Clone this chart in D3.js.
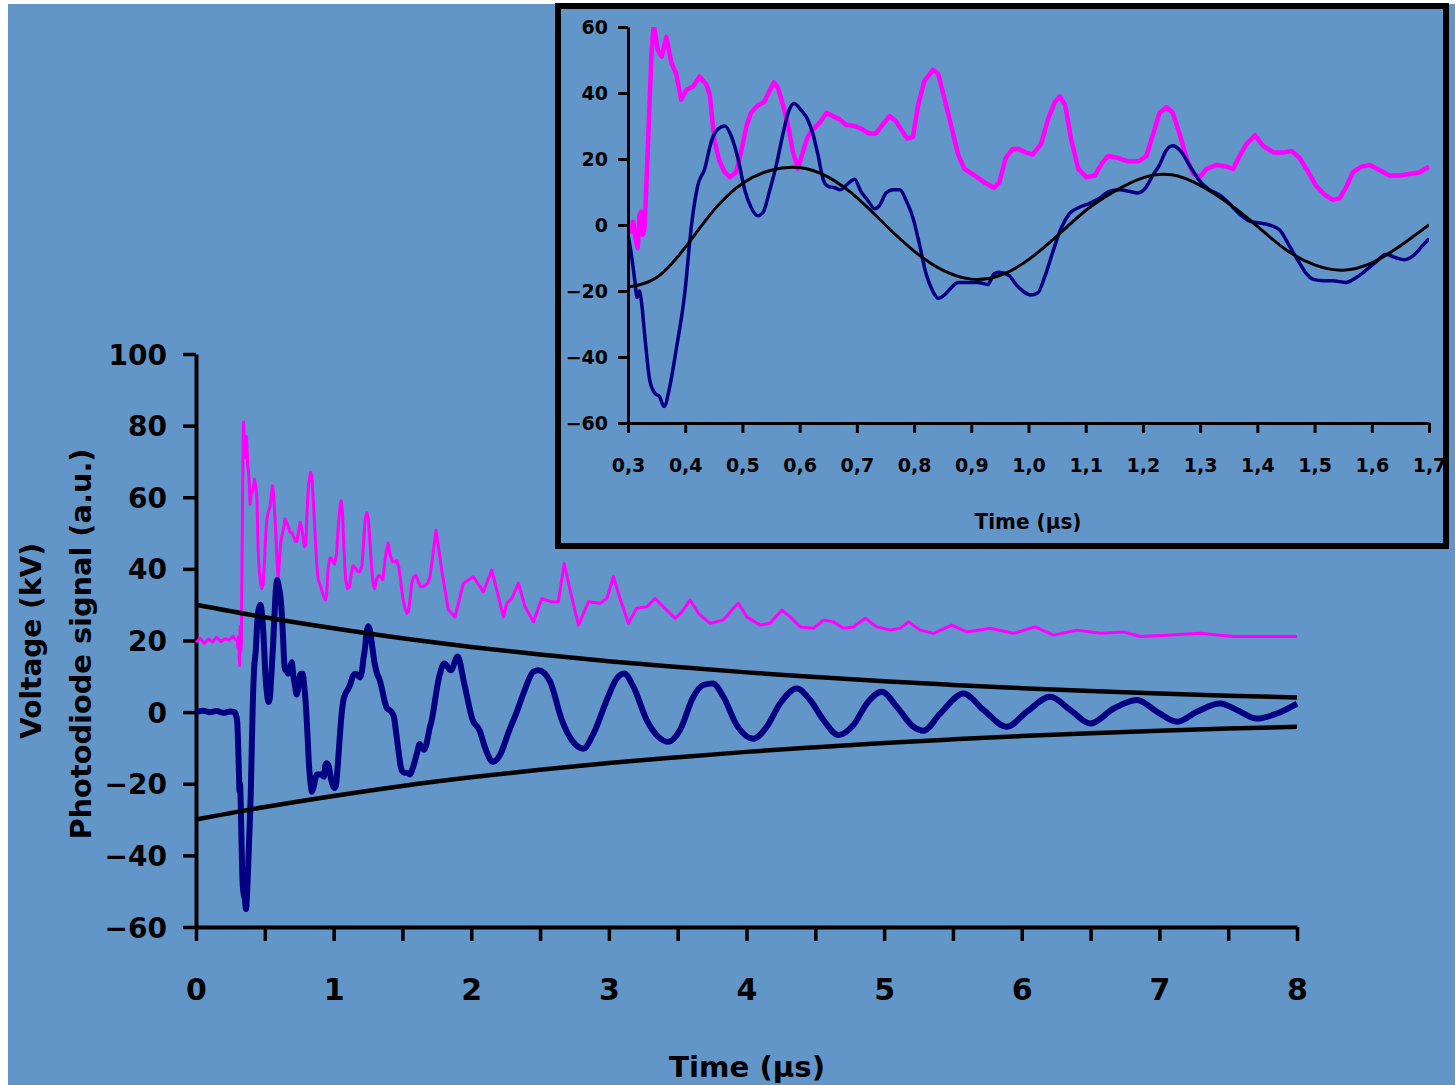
<!DOCTYPE html>
<html>
<head>
<meta charset="utf-8">
<script src="https://cdn.jsdelivr.net/npm/d3@7"></script>
<style>
  html, body { margin: 0; padding: 0; background: #ffffff; }
  svg { display: block; }
  text { font-family: "DejaVu Sans", Verdana, sans-serif; font-weight: bold; fill: #000; }
</style>
</head>
<body>
<svg id="chart" width="1455" height="1085"></svg>
<script>
// ---------------- DATA ----------------
// Main chart tick labels
const mainYTicks = [100, 80, 60, 40, 20, 0, -20, -40, -60];
const mainYTickLabels = ["100", "80", "60", "40", "20", "0", "\u221220", "\u221240", "\u221260"];
const mainXTicks = [0, 0.5, 1, 1.5, 2, 2.5, 3, 3.5, 4, 4.5, 5, 5.5, 6, 6.5, 7, 7.5, 8];
const mainXTickLabels = ["0", "", "1", "", "2", "", "3", "", "4", "", "5", "", "6", "", "7", "", "8"];

// Inset tick labels
const insetYTicks = [60, 40, 20, 0, -20, -40, -60];
const insetYTickLabels = ["60", "40", "20", "0", "\u221220", "\u221240", "\u221260"];
const insetXTicks = [0.3, 0.4, 0.5, 0.6, 0.7, 0.8, 0.9, 1.0, 1.1, 1.2, 1.3, 1.4, 1.5, 1.6, 1.7];
const insetXTickLabels = ["0,3", "0,4", "0,5", "0,6", "0,7", "0,8", "0,9", "1,0", "1,1", "1,2", "1,3", "1,4", "1,5", "1,6", "1,7"];

// Photodiode offset between main chart (baseline 20) and inset (baseline 0)
const photoOffset = 20;

// Voltage (kV), 0.3 - 1.7 us  [t, kV]
const insetVoltage = [
  [0.300,-3],[0.306,-9],[0.312,-17],[0.316,-22],[0.320,-20],[0.324,-24],[0.329,-33],[0.338,-47],
  [0.347,-51],[0.355,-52],[0.363,-55],[0.373,-49],[0.384,-38],[0.399,-21],[0.411,0],[0.422,12],
  [0.434,17],[0.446,25.5],[0.457,29],[0.469,30],[0.481,26.7],[0.492,20.3],[0.504,10.7],[0.515,5.4],
  [0.527,2.8],[0.536,3.8],[0.548,10.7],[0.559,18],[0.571,27.7],[0.580,34],[0.590,36.8],[0.603,34.7],
  [0.614,32],[0.623,27.7],[0.632,21.3],[0.641,13.9],[0.649,11.8],[0.661,11.3],[0.671,10.7],[0.683,12.3],
  [0.696,13.9],[0.707,10.2],[0.719,7.5],[0.731,4.9],[0.740,6],[0.751,9.7],[0.763,10.7],[0.775,10.7],
  [0.786,7.5],[0.798,2.2],[0.810,-6.3],[0.821,-14.8],[0.833,-20.1],[0.842,-22.2],[0.853,-21.2],[0.865,-19],
  [0.877,-17.4],[0.894,-17.4],[0.911,-17.4],[0.929,-18],[0.940,-14.8],[0.949,-14.3],[0.966,-15.3],[0.978,-18],
  [0.990,-20],[1.004,-21.2],[1.016,-20.6],[1.028,-15.9],[1.042,-8.4],[1.057,-1],[1.071,3.3],[1.089,5.4],
  [1.106,6.5],[1.124,8.1],[1.141,10.2],[1.159,10.7],[1.176,10.2],[1.191,9.7],[1.205,11.3],[1.217,15],
  [1.229,18.2],[1.240,22.4],[1.252,24],[1.266,22.4],[1.281,18.2],[1.299,13.4],[1.316,10.7],[1.334,9.1],
  [1.351,6.5],[1.369,3.3],[1.386,1.2],[1.404,0.6],[1.421,0],[1.439,-1.5],[1.456,-6.3],[1.474,-11.6],
  [1.486,-14.8],[1.497,-16.4],[1.515,-16.9],[1.532,-16.9],[1.555,-17.4],[1.573,-15.9],[1.590,-13.7],[1.608,-11.1],
  [1.625,-8.9],[1.643,-10],[1.657,-10.5],[1.675,-8.9],[1.686,-6.8],[1.700,-4.1]
];

// Photodiode signal (baseline 0), 0.3 - 1.7 us
const insetPhoto = [
  [0.300,0],[0.305,-2],[0.309,1],[0.313,-4],[0.317,-7],[0.320,3],[0.323,4],[0.326,-3],[0.329,-1],
  [0.335,25],[0.341,52],[0.345,61],[0.352,53],[0.359,51],[0.367,57],[0.376,49],[0.384,46],[0.393,38],
  [0.402,41],[0.414,42],[0.425,45],[0.437,42.5],[0.443,39.4],[0.451,25.5],[0.460,19.3],[0.469,16],
  [0.478,14.5],[0.489,16],[0.498,22.4],[0.507,30],[0.515,34],[0.527,36.3],[0.538,37.3],[0.547,40.5],
  [0.555,43.2],[0.562,41.6],[0.571,36.3],[0.580,30],[0.588,22.4],[0.597,17],[0.606,22.4],[0.614,26.7],
  [0.623,29],[0.635,31],[0.647,34],[0.658,33],[0.670,32],[0.681,30.4],[0.696,30],[0.710,29],
  [0.721,27.7],[0.733,27.7],[0.745,30.4],[0.757,33],[0.768,31.5],[0.780,28.3],[0.788,26.2],[0.798,26.7],
  [0.807,36.3],[0.818,43.7],[0.833,47],[0.842,45.9],[0.853,38.4],[0.865,30],[0.877,21.3],[0.888,17],
  [0.906,15],[0.923,12.9],[0.940,11.3],[0.949,12.9],[0.960,20.3],[0.972,23],[0.983,23],[0.995,22],
  [1.007,21.3],[1.022,24.6],[1.034,32],[1.046,37.3],[1.055,39],[1.064,36.3],[1.075,25.6],[1.087,17],
  [1.101,14.5],[1.116,15],[1.128,18.7],[1.139,20.9],[1.157,20.3],[1.174,19.3],[1.192,19.3],[1.206,20.9],
  [1.218,27.7],[1.229,34],[1.241,35.7],[1.252,34],[1.264,27.7],[1.276,20.3],[1.288,15.5],[1.299,14.5],
  [1.311,17],[1.329,18.2],[1.346,17.7],[1.358,17],[1.367,20.3],[1.381,24.6],[1.396,27.2],[1.410,24],
  [1.428,22],[1.446,22],[1.460,22.4],[1.474,20.3],[1.489,16],[1.503,11.8],[1.518,9.1],[1.532,7.6],
  [1.544,8.1],[1.556,11.8],[1.567,16],[1.582,17.7],[1.597,18.2],[1.614,16.6],[1.631,15],[1.649,15],
  [1.667,15.5],[1.684,16],[1.700,17.7]
];

// Fitted oscillation shown in the inset
const insetFit = [
  [0.30,-18.8],[0.35,-15.9],[0.40,-6.8],[0.45,4.5],[0.50,12.6],[0.55,16.6],[0.60,17.4],[0.65,14.5],
  [0.70,8.3],[0.75,0],[0.80,-7.9],[0.85,-13.7],[0.90,-16.4],[0.95,-15.3],[1.00,-10.5],[1.05,-3.3],
  [1.10,4.4],[1.15,10.2],[1.20,14.3],[1.25,15.2],[1.30,12],[1.35,6.5],[1.40,-0.4],[1.45,-7.5],
  [1.50,-12.1],[1.55,-13.7],[1.60,-11.5],[1.65,-6.3],[1.70,0]
];

// Main chart: voltage before and after the inset window
const voltagePre = [[0,0],[0.05,0.4],[0.10,0],[0.15,0.3],[0.20,-0.2],[0.25,0.2],[0.28,0],[0.295,-1.5]];
const voltagePost = [
  [1.707,-3.2],[1.767,9.9],[1.804,13.6],[1.852,11.7],[1.901,15.5],[1.949,8],[2.010,-2.2],[2.059,-5],
  [2.107,-10.6],[2.156,-13.9],[2.204,-12.3],[2.277,-5],[2.326,-0.4],[2.379,5.2],[2.452,11.3],[2.488,11.7],
  [2.573,8.5],[2.658,-2.2],[2.730,-7.8],[2.815,-10.2],[2.888,-6],[2.985,3.4],[3.057,9.4],[3.111,10.8],
  [3.178,7.1],[3.275,-2.2],[3.360,-6.9],[3.433,-8.3],[3.517,-5],[3.614,4.3],[3.687,7.6],[3.755,8],
  [3.832,4.3],[3.929,-3.6],[4.050,-7.4],[4.147,-4.1],[4.244,2.4],[4.365,6.6],[4.462,3.4],[4.559,-2.2],
  [4.668,-6.4],[4.777,-3.6],[4.874,2.4],[4.983,5.7],[5.092,1.5],[5.213,-4.1],[5.286,-5.2],[5.407,-0.4],
  [5.577,5.2],[5.722,0.6],[5.892,-4.1],[6.037,0.1],[6.207,4.3],[6.353,0.6],[6.498,-3.2],[6.668,1],
  [6.837,3.4],[6.983,0.1],[7.128,-2.7],[7.273,0.1],[7.442,2.4],[7.563,0.6],[7.708,-1.8],[7.854,-0.4],
  [8.0,2.4]
];

// Main chart: photodiode before and after the inset window (baseline 20)
const photoPre = [[0,19.5],[0.03,20.6],[0.06,19.2],[0.09,20.4],[0.12,19.6],[0.15,20.9],[0.18,19.7],
  [0.21,20.5],[0.24,20.1],[0.27,21.2],[0.29,20.3]];
const photoPost = [
  [1.744,50.8],[1.785,39.7],[1.834,28.5],[1.882,26.6],[1.943,36],[2.015,37.8],[2.088,33.6],[2.149,39.7],
  [2.185,34.1],[2.234,26.6],[2.258,30.4],[2.294,31.7],[2.343,36],[2.391,29.4],[2.452,25.2],[2.512,31.7],
  [2.585,30.8],[2.633,30.8],[2.675,41.5],[2.718,34.1],[2.779,24.3],[2.851,30.8],[2.936,30.4],[2.985,31.7],
  [3.033,37.8],[3.081,31.7],[3.142,24.8],[3.202,29],[3.275,29.4],[3.336,31.7],[3.396,29.4],[3.481,26.2],
  [3.530,28],[3.590,31.3],[3.651,27.6],[3.736,24.8],[3.832,25.7],[3.905,29],[3.941,30.4],[4.002,26.6],
  [4.099,24.3],[4.172,24.8],[4.257,28.5],[4.317,26.6],[4.390,23.8],[4.487,23.4],[4.559,25.7],[4.632,25.2],
  [4.705,23.4],[4.777,23.8],[4.862,26.2],[4.947,23.8],[5.044,22.9],[5.116,23.4],[5.177,25.2],[5.262,22.9],
  [5.359,22],[5.492,24.3],[5.601,22.4],[5.771,23.4],[5.940,22],[6.098,23.8],[6.231,21.5],[6.401,22.9],
  [6.570,22],[6.740,22.4],[6.861,21.1],[7.054,21.5],[7.297,22],[7.539,21.1],[7.781,21.1],[8.0,21.1]
];

// Decay envelope (upper and lower black curves)
const envelopeUpper = [[0,30],[0.5,26.5],[1,23.4],[1.5,20.6],[2,18.2],[2.5,16.1],[3,14.2],[3.5,12.6],
  [4,11.1],[4.5,9.8],[5,8.6],[5.5,7.6],[6,6.7],[6.5,5.9],[7,5.2],[7.5,4.6],[8,4.1]];
const envelopeLower = [[0,-30],[0.5,-26.5],[1,-23.4],[1.5,-20.6],[2,-18.2],[2.5,-16.1],[3,-14.2],[3.5,-12.6],
  [4,-11.1],[4.5,-9.8],[5,-8.6],[5.5,-7.6],[6,-6.7],[6.5,-5.9],[7,-5.2],[7.5,-4.6],[8,-4.1]];

// ---------------- DRAW ----------------
const BG = "#6296c8";
const NAVY = "#000080";
const MAGENTA = "#ff00ff";

const svg = d3.select("#chart");
svg.append("rect").attr("x", 8).attr("y", 4).attr("width", 1447).attr("height", 1081).attr("fill", BG);

const mainVoltage = voltagePre.concat(insetVoltage, voltagePost);
const mainPhoto = photoPre.concat(insetPhoto.map(d => [d[0], d[1] + photoOffset]), photoPost);

// Main scales
const xMain = d3.scaleLinear().domain([0, 8]).range([196, 1297]);
const yMain = d3.scaleLinear().domain([-60, 100]).range([927, 354]);

const lineMain = d3.line().x(d => xMain(d[0])).y(d => yMain(d[1])).curve(d3.curveMonotoneX);
const lineMainLin = d3.line().x(d => xMain(d[0])).y(d => yMain(d[1]));

const gMain = svg.append("g");

// Axes
const yAxisMain = d3.axisLeft(yMain).tickValues(mainYTicks)
  .tickFormat((d, i) => mainYTickLabels[i]).tickSize(13).tickSizeOuter(0).tickPadding(16);
const yAx = gMain.append("g").attr("transform", "translate(196,0)").call(yAxisMain);
yAx.selectAll("text").style("font-size", "28px").attr("dy", "0.36em");

const xAxisMain = d3.axisBottom(xMain).tickValues(mainXTicks)
  .tickFormat((d, i) => mainXTickLabels[i]).tickSize(14).tickSizeOuter(0).tickPadding(38);
const xAx = gMain.append("g").attr("transform", "translate(0,927)").call(xAxisMain);
xAx.selectAll("text").style("font-size", "30px");

[yAx, xAx].forEach(a => {
  a.select(".domain").attr("stroke", "#000").attr("stroke-width", 4);
  a.selectAll(".tick line").attr("stroke", "#000").attr("stroke-width", 3.5);
  a.selectAll("text").attr("fill", "#000").style("font-family", "DejaVu Sans").style("font-weight", "bold");
});

// Series
gMain.append("path").datum(mainPhoto).attr("d", lineMainLin)
  .attr("fill", "none").attr("stroke", MAGENTA).attr("stroke-width", 3).attr("stroke-linejoin", "round");
gMain.append("path").datum(mainVoltage).attr("d", lineMain)
  .attr("fill", "none").attr("stroke", NAVY).attr("stroke-width", 6).attr("stroke-linejoin", "round");
[envelopeUpper, envelopeLower].forEach(env => {
  gMain.append("path").datum(env).attr("d", lineMain)
    .attr("fill", "none").attr("stroke", "#000").attr("stroke-width", 4.5);
});

// Axis titles
svg.append("text").attr("x", 747).attr("y", 1077).attr("text-anchor", "middle")
  .attr("textLength", 156).attr("lengthAdjust", "spacingAndGlyphs")
  .style("font-size", "29px").text("Time (\u03bcs)");
svg.append("text").attr("transform", "translate(41,641) rotate(-90)").attr("text-anchor", "middle")
  .attr("textLength", 196).attr("lengthAdjust", "spacingAndGlyphs")
  .style("font-size", "29px").text("Voltage (kV)");
svg.append("text").attr("transform", "translate(91,644) rotate(-90)").attr("text-anchor", "middle")
  .attr("textLength", 391).attr("lengthAdjust", "spacingAndGlyphs")
  .style("font-size", "29px").text("Photodiode signal (a.u.)");

// ---------------- INSET ----------------
const gIn = svg.append("g");
gIn.append("rect").attr("x", 558).attr("y", 6).attr("width", 888).attr("height", 540).attr("fill", BG);

const xIn = d3.scaleLinear().domain([0.3, 1.7]).range([628, 1429]);
const yIn = d3.scaleLinear().domain([-60, 60]).range([423, 27]);

svg.append("defs").append("clipPath").attr("id", "insetClip")
  .append("rect").attr("x", 628).attr("y", 27).attr("width", 801).attr("height", 396);

const lineIn = d3.line().x(d => xIn(d[0])).y(d => yIn(d[1])).curve(d3.curveMonotoneX);
const lineInLin = d3.line().x(d => xIn(d[0])).y(d => yIn(d[1]));

const gInPlot = gIn.append("g").attr("clip-path", "url(#insetClip)");
gInPlot.append("path").datum(insetPhoto).attr("d", lineInLin)
  .attr("fill", "none").attr("stroke", MAGENTA).attr("stroke-width", 4.5).attr("stroke-linejoin", "round");
gInPlot.append("path").datum(insetVoltage).attr("d", lineIn)
  .attr("fill", "none").attr("stroke", NAVY).attr("stroke-width", 3.5).attr("stroke-linejoin", "round");
gInPlot.append("path").datum(insetFit).attr("d", d3.line().x(d => xIn(d[0])).y(d => yIn(d[1])).curve(d3.curveNatural))
  .attr("fill", "none").attr("stroke", "#000").attr("stroke-width", 3);

const yAxIn = gIn.append("g").attr("transform", "translate(628,0)")
  .call(d3.axisLeft(yIn).tickValues(insetYTicks).tickFormat((d, i) => insetYTickLabels[i])
    .tickSize(10).tickSizeOuter(0).tickPadding(10));
yAxIn.selectAll("text").style("font-size", "19px").attr("dy", "0.36em");
const xAxIn = gIn.append("g").attr("transform", "translate(0,423)")
  .call(d3.axisBottom(xIn).tickValues(insetXTicks)
    .tickFormat((d, i) => insetXTickLabels[i]).tickSize(10).tickSizeOuter(0).tickPadding(26));
xAxIn.selectAll("text").style("font-size", "19px");
[yAxIn, xAxIn].forEach(a => {
  a.select(".domain").attr("stroke", "#000").attr("stroke-width", 3);
  a.selectAll(".tick line").attr("stroke", "#000").attr("stroke-width", 3);
  a.selectAll("text").attr("fill", "#000").style("font-family", "DejaVu Sans").style("font-weight", "bold");
});

gIn.append("text").attr("x", 1028).attr("y", 529).attr("text-anchor", "middle")
  .attr("textLength", 107).attr("lengthAdjust", "spacingAndGlyphs")
  .style("font-size", "21px").text("Time (\u03bcs)");

// Inset frame
gIn.append("rect").attr("x", 558).attr("y", 6).attr("width", 888).attr("height", 540)
  .attr("fill", "none").attr("stroke", "#000").attr("stroke-width", 6);
</script>
</body>
</html>
